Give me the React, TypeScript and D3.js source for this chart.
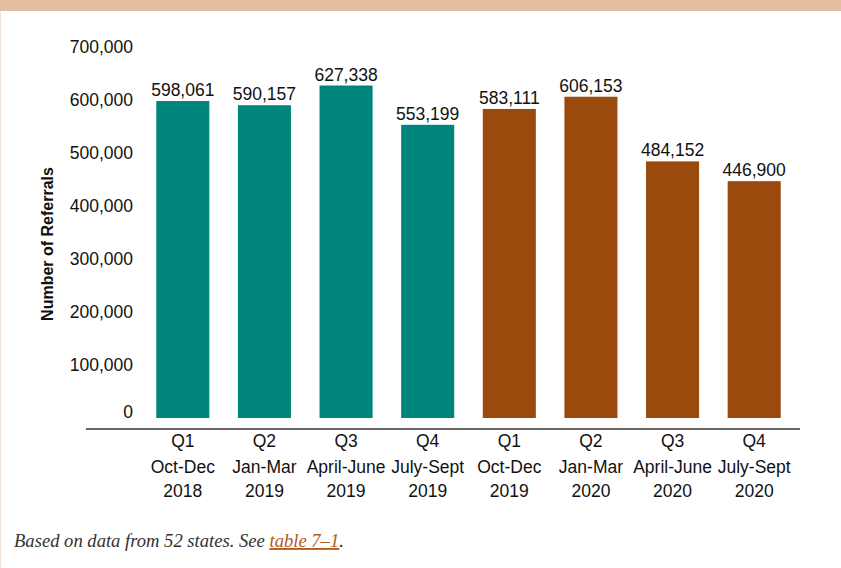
import React from "react";
import * as d3 from "d3";

const quarters = ["Q1", "Q2", "Q3", "Q4", "Q1", "Q2", "Q3", "Q4"];
const months = ["Oct-Dec", "Jan-Mar", "April-June", "July-Sept", "Oct-Dec", "Jan-Mar", "April-June", "July-Sept"];
const years = ["2018", "2019", "2019", "2019", "2019", "2020", "2020", "2020"];
const referrals = [598061, 590157, 627338, 553199, 583111, 606153, 484152, 446900];
const fiscalYear = ["FY2019", "FY2019", "FY2019", "FY2019", "FY2020", "FY2020", "FY2020", "FY2020"];
const yTicks = [0, 100000, 200000, 300000, 400000, 500000, 600000, 700000];

const colors: Record<string, string> = { FY2019: "#00857C", FY2020: "#9A4A0C" };

export default function App() {
  const W = 841, H = 568;
  const ids = referrals.map((_, i) => String(i));
  const x = d3.scaleBand<string>().domain(ids).range([142, 795]).paddingInner(0.35).paddingOuter(0.175);
  const y = d3.scaleLinear().domain([0, 700000]).range([418, 47]);
  const fmt = d3.format(",");
  const font = "'Liberation Sans', Arial, Helvetica, sans-serif";

  return (
    <svg width={W} height={H} style={{ position: "absolute", left: 0, top: 0, display: "block" }} fontFamily={font}>
      <rect x={0} y={0} width={W} height={H} fill="#fff" />
      <rect x={0} y={0} width={W} height={11} fill="#E2BFA3" />
      <line x1={0.5} y1={11} x2={0.5} y2={H} stroke="#F3E6DC" />
      {yTicks.map((t) => (
        <text key={t} x={133} y={y(t) - (t === 0 ? 6 : 0)} textAnchor="end" dominantBaseline="central" fontSize={17.5} fill="#111">
          {fmt(t)}
        </text>
      ))}
      <text transform={`translate(47,244) rotate(-90)`} textAnchor="middle" dominantBaseline="central" fontSize={16} fontWeight="bold" fill="#111">
        Number of Referrals
      </text>
      {referrals.map((v, i) => {
        const bx = x(String(i))!;
        const bw = x.bandwidth();
        return (
          <g key={i}>
            <rect x={bx} y={y(v)} width={bw} height={y(0) - y(v)} fill={colors[fiscalYear[i]]} />
            <text x={bx + bw / 2} y={y(v) - 5} textAnchor="middle" fontSize={17.5} fill="#111">
              {fmt(v)}
            </text>
            <text x={bx + bw / 2} textAnchor="middle" fontSize={17.5} fill="#111">
              <tspan x={bx + bw / 2} y={447}>{quarters[i]}</tspan>
              <tspan x={bx + bw / 2} y={473}>{months[i]}</tspan>
              <tspan x={bx + bw / 2} y={497}>{years[i]}</tspan>
            </text>
          </g>
        );
      })}
      <line x1={86} y1={429} x2={800} y2={429} stroke="#666" strokeWidth={2} />
      <text x={14} y={547} fontSize={18.6} fontStyle="italic" fontFamily="'Liberation Serif', 'Times New Roman', serif" fill="#333">
        Based on data from 52 states. See{" "}
        <tspan fill="#B3591A" textDecoration="underline">table 7–1</tspan>.
      </text>
    </svg>
  );
}
